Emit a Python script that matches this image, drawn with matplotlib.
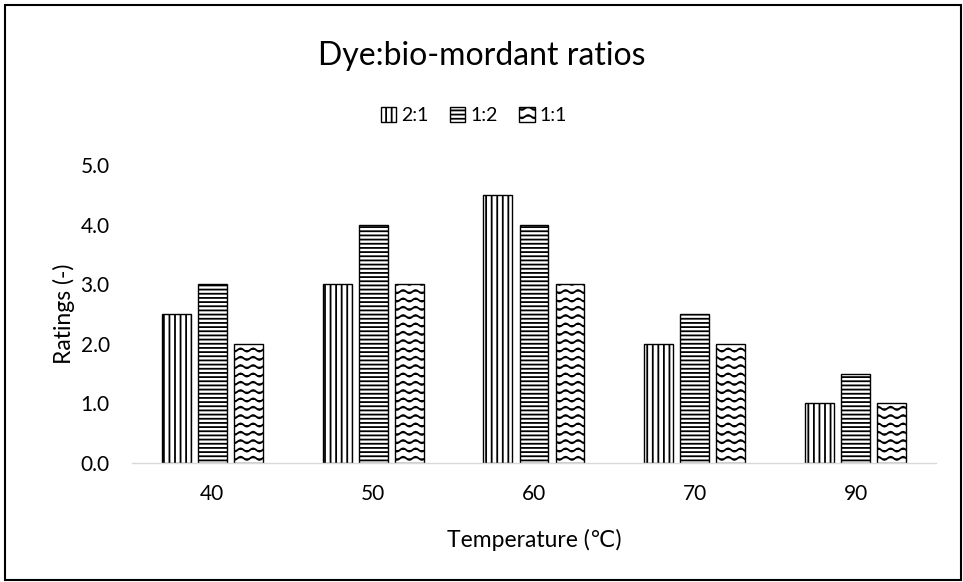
import numpy as np
import matplotlib
matplotlib.use("Agg")
import matplotlib.pyplot as plt
import matplotlib.hatch as mhatch
from matplotlib.path import Path
from matplotlib.patches import Rectangle

categories = ["40", "50", "60", "70", "90"]
series_names = ["2:1", "1:2", "1:1"]
r21 = [2.5, 3.0, 4.5, 2.0, 1.0]
r12 = [3.0, 4.0, 4.0, 2.5, 1.5]
r11 = [2.0, 3.0, 3.0, 2.0, 1.0]
yticks = [0.0, 1.0, 2.0, 3.0, 4.0, 5.0]


class WaveHatch(mhatch.HatchPatternBase):
    PTS = 65

    def __init__(self, hatch, density):
        self.num_lines = int(hatch.count('~') * density)
        self.num_vertices = (self.num_lines + 1) * self.PTS if self.num_lines else 0

    def set_vertices_and_codes(self, vertices, codes):
        n = self.num_lines
        ys = np.linspace(0, 1, n + 1, endpoint=True)
        t = np.linspace(0, 1, self.PTS)
        idx = 0
        for y in ys:
            vertices[idx:idx + self.PTS, 0] = t
            vertices[idx:idx + self.PTS, 1] = y + 0.016 * np.sin(2 * np.pi * 8 * t)
            codes[idx] = Path.MOVETO
            codes[idx + 1:idx + self.PTS] = Path.LINETO
            idx += self.PTS


mhatch._hatch_types.append(WaveHatch)

plt.rcParams['font.family'] = ['Lato', 'DejaVu Sans']
plt.rcParams['hatch.linewidth'] = 1.3

fig = plt.figure(figsize=(9.63, 5.82), dpi=100)
ax = fig.add_axes([0.137, 0.2045, 0.835, 0.512])

x = np.arange(len(categories))
w = 0.18
off = 0.224
hatches = ['|||', '----', '~~']
for i, (vals, name, h) in enumerate(zip([r21, r12, r11], series_names, hatches)):
    ax.bar(x + (i - 1) * off, vals, width=w, color='white', edgecolor='black',
           linewidth=1.0, hatch=h, label=name)

ax.set_xlim(-0.5, len(categories) - 0.5)
ax.set_ylim(0, 5.0)
ax.set_yticks(yticks)
ax.set_yticklabels([f"{v:.1f}" for v in yticks], fontsize=15)
ax.set_xticks(x)
ax.set_xticklabels(categories, fontsize=15)
ax.tick_params(axis='y', length=0, pad=16, colors='#000000')
ax.tick_params(axis='x', length=0, pad=15, colors='#000000')
for s in ['top', 'right', 'left']:
    ax.spines[s].set_visible(False)
ax.spines['bottom'].set_color('#d9d9d9')
ax.spines['bottom'].set_linewidth(1.0)

ax.set_xlabel("Temperature (℃)", fontsize=16.5, labelpad=18)
ax.set_ylabel("Ratings (-)", fontsize=16.5, labelpad=4)

fig.text(0.5, 0.903, "Dye:bio-mordant ratios", ha='center', va='center', fontsize=23)
leg = fig.legend(loc='center', bbox_to_anchor=(0.492, 0.802), ncol=3, frameon=False,
                 fontsize=14, handlelength=0.8, handleheight=0.8, handletextpad=0.25,
                 columnspacing=1.1)

fig.patches.append(Rectangle((5 / 963, 2 / 582), 956 / 963, 575 / 582, transform=fig.transFigure,
                             fill=False, edgecolor='black', linewidth=1.5))

fig.savefig("out.png", dpi=100, facecolor='white')
